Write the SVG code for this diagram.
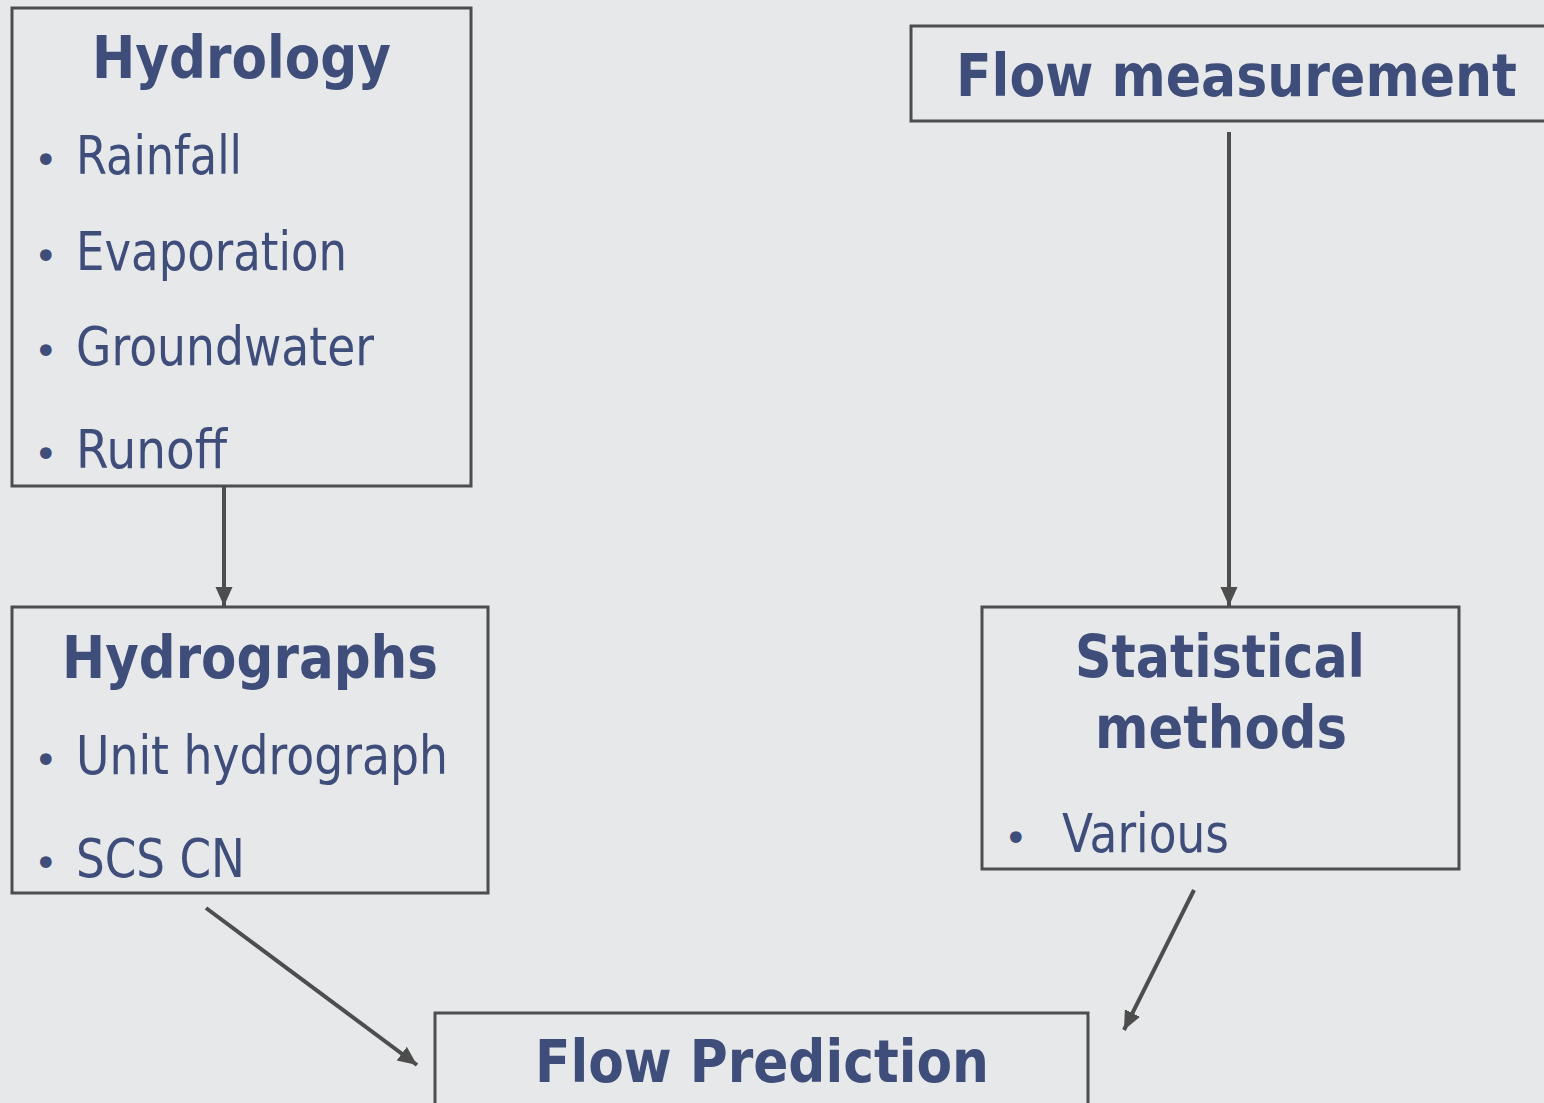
<svg xmlns="http://www.w3.org/2000/svg" width="1544" height="1103" viewBox="0 0 1544 1103">
<style>
.box{fill:none;stroke:#4D4D4D;stroke-width:3}
.h{font-family:"DejaVu Sans","Liberation Sans",sans-serif;font-weight:bold;font-size:58px;fill:#3F4D7A}
.t{font-family:"DejaVu Sans","Liberation Sans",sans-serif;font-size:53px;fill:#3F4D7A}
.b{font-family:"DejaVu Sans","Liberation Sans",sans-serif;font-size:40px;fill:#3F4D7A}
.c{fill:none;stroke:#4D4D4D;stroke-width:4}
</style>
<defs>
<marker id="arr" markerUnits="userSpaceOnUse" markerWidth="22" markerHeight="22" viewBox="0 0 22 22" refX="19" refY="11" orient="auto">
<path d="M0,2.5 L19,11 L0,19.5 Z" fill="#4D4D4D"/>
</marker>
</defs>
<rect width="1544" height="1103" fill="#E6E8EA"/>
<g id="hydrology">
<rect class="box" x="12" y="8" width="459" height="478"/>
<text class="h" x="92" y="78" textLength="299" lengthAdjust="spacingAndGlyphs">Hydrology</text>
<text class="b" x="34" y="174">•</text>
<text class="t" x="76" y="174" textLength="166" lengthAdjust="spacingAndGlyphs">Rainfall</text>
<text class="b" x="34" y="270">•</text>
<text class="t" x="76" y="270" textLength="271" lengthAdjust="spacingAndGlyphs">Evaporation</text>
<text class="b" x="34" y="365">•</text>
<text class="t" x="76" y="365" textLength="298" lengthAdjust="spacingAndGlyphs">Groundwater</text>
<text class="b" x="34" y="468">•</text>
<text class="t" x="76" y="468" textLength="151" lengthAdjust="spacingAndGlyphs">Runoff</text>
</g>
<g id="flow-measurement">
<rect class="box" x="911" y="26" width="640" height="95"/>
<text class="h" x="956" y="96" textLength="561" lengthAdjust="spacingAndGlyphs">Flow measurement</text>
</g>
<g id="hydrographs">
<rect class="box" x="12" y="607" width="476" height="286"/>
<text class="h" x="62" y="678" textLength="376" lengthAdjust="spacingAndGlyphs">Hydrographs</text>
<text class="b" x="34" y="774">•</text>
<text class="t" x="76" y="774" textLength="372" lengthAdjust="spacingAndGlyphs">Unit hydrograph</text>
<text class="b" x="34" y="877">•</text>
<text class="t" x="76" y="877" textLength="169" lengthAdjust="spacingAndGlyphs">SCS CN</text>
</g>
<g id="statistical-methods">
<rect class="box" x="982" y="607" width="477" height="262"/>
<text class="h" x="1075" y="677" textLength="290" lengthAdjust="spacingAndGlyphs">Statistical</text>
<text class="h" x="1095" y="748" textLength="252" lengthAdjust="spacingAndGlyphs">methods</text>
<text class="b" x="1004" y="852">•</text>
<text class="t" x="1062" y="852" textLength="167" lengthAdjust="spacingAndGlyphs">Various</text>
</g>
<g id="flow-prediction">
<rect class="box" x="435" y="1013" width="653" height="110"/>
<text class="h" x="535" y="1082" textLength="454" lengthAdjust="spacingAndGlyphs">Flow Prediction</text>
</g>
<g id="connectors">
<line class="c" x1="224" y1="486" x2="224" y2="606" marker-end="url(#arr)"/>
<line class="c" x1="1229" y1="132" x2="1229" y2="606" marker-end="url(#arr)"/>
<line class="c" x1="206" y1="908" x2="417" y2="1065" marker-end="url(#arr)"/>
<line class="c" x1="1194" y1="890" x2="1124" y2="1030" marker-end="url(#arr)"/>
</g>
</svg>
